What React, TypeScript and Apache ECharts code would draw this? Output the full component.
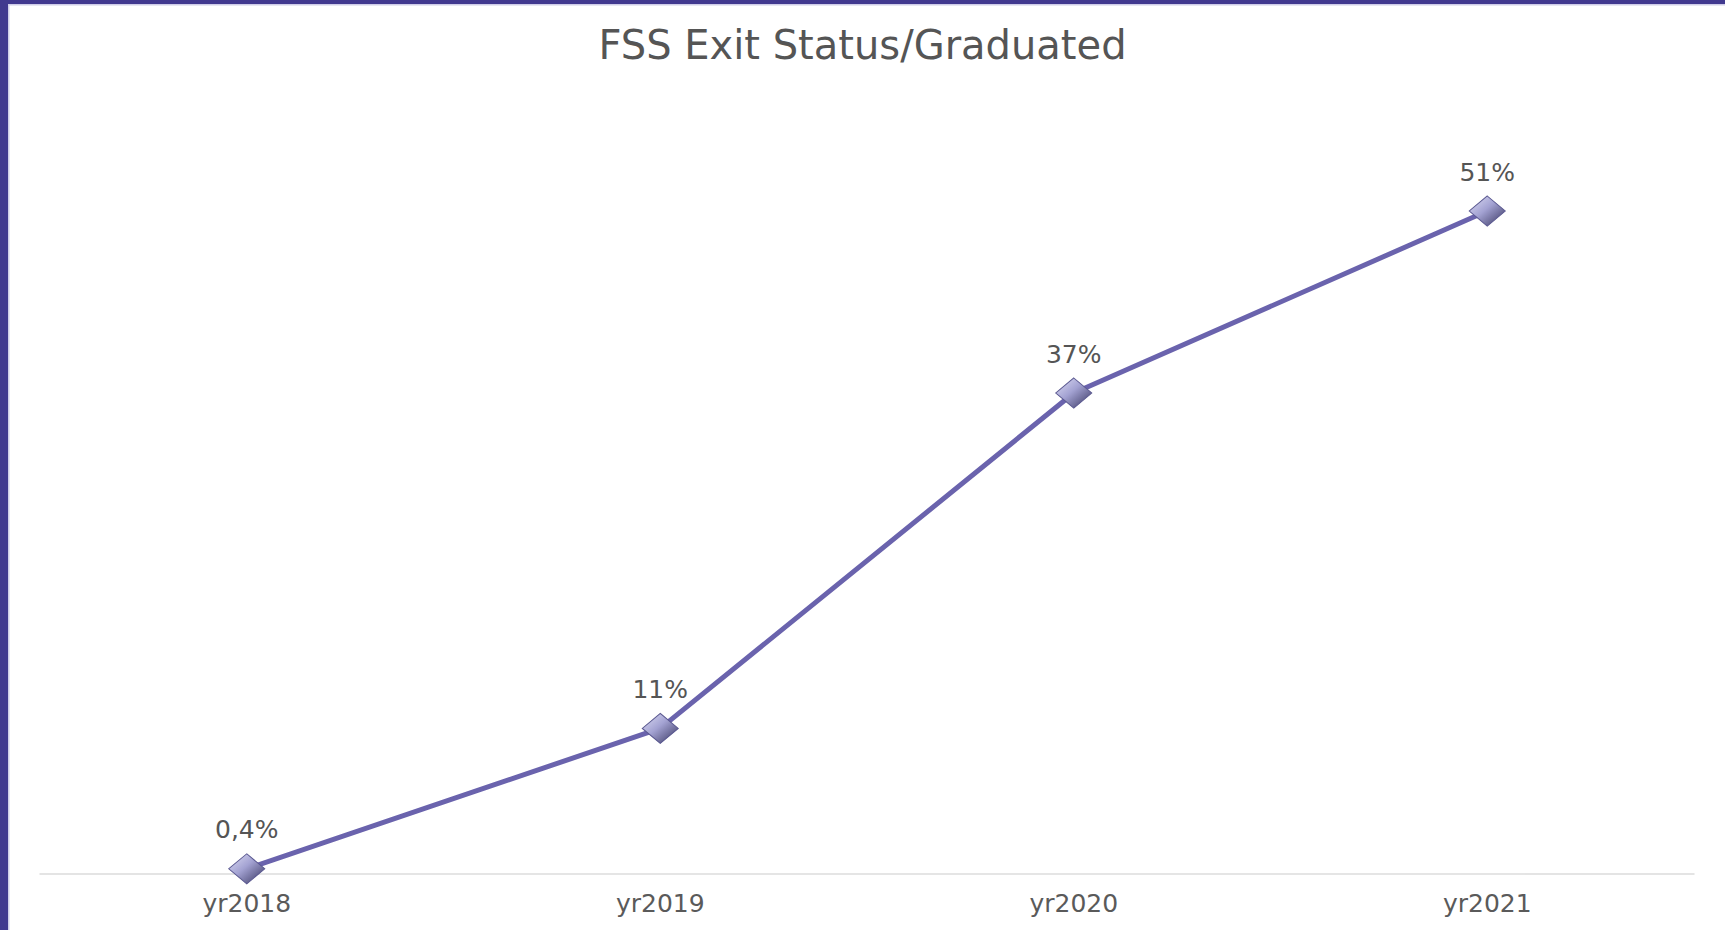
import React, { useEffect, useRef } from "react";
import * as echarts from "echarts";

const categories = ["yr2018", "yr2019", "yr2020", "yr2021"];
const values = [0.4, 11.2, 37, 51];
const valueLabels = ["0,4%", "11%", "37%", "51%"];
const titleText = "FSS Exit Status/Graduated";

export default function App() {
  const ref = useRef<HTMLDivElement>(null);
  useEffect(() => {
    if (!ref.current) return;
    const chart = echarts.init(ref.current, null, { renderer: "svg" });
    const font = "'DejaVu Sans', Verdana, sans-serif";
    chart.setOption({
      animation: false,
      backgroundColor: "#ffffff",
      title: {
        text: titleText,
        left: "center",
        top: 20,
        textStyle: { fontFamily: font, fontSize: 40, fontWeight: "normal", color: "#555555" },
      },
      graphic: [
        { type: "rect", shape: { x: 0, y: 0, width: 1725, height: 4 }, style: { fill: "#41398f" }, z: 100 },
        { type: "rect", shape: { x: 0, y: 0, width: 8, height: 930 }, style: { fill: "#41398f" }, z: 100 },
        { type: "rect", shape: { x: 8, y: 4, width: 1717, height: 1.5 }, style: { fill: "#cfcde8" }, z: 100 },
        { type: "rect", shape: { x: 8, y: 4, width: 1.5, height: 926 }, style: { fill: "#cfcde8" }, z: 100 },
      ],
      grid: { left: 40, right: 31, top: 94, bottom: 56 },
      xAxis: {
        type: "category",
        data: categories,
        boundaryGap: true,
        axisLine: { lineStyle: { color: "#dcdcdc", width: 1.5 } },
        axisTick: { show: false },
        axisLabel: { fontFamily: font, fontSize: 25, color: "#5a5a5a", margin: 17 },
      },
      yAxis: {
        type: "value",
        min: 0,
        max: 60,
        show: false,
        splitLine: { show: false },
      },
      series: [
        {
          type: "line",
          data: values,
          lineStyle: { color: "#6a63ad", width: 5 },
          symbol: "diamond",
          symbolSize: [36, 30],
          itemStyle: {
            color: new echarts.graphic.LinearGradient(0, 0, 1, 1, [
              { offset: 0, color: "#e0e0f6" },
              { offset: 0.45, color: "#a3a2d2" },
              { offset: 1, color: "#34325c" },
            ]),
            borderColor: "#5a5890",
            borderWidth: 1,
          },
          label: {
            show: true,
            position: "top",
            distance: 11,
            fontFamily: font,
            fontSize: 25,
            color: "#555555",
            formatter: (p: any) => valueLabels[p.dataIndex],
          },
          z: 3,
        },
      ],
    });
    return () => chart.dispose();
  }, []);
  return (
    <div
      ref={ref}
      style={{ position: "fixed", left: 0, top: 0, width: 1725, height: 930, background: "#fff" }}
    />
  );
}
